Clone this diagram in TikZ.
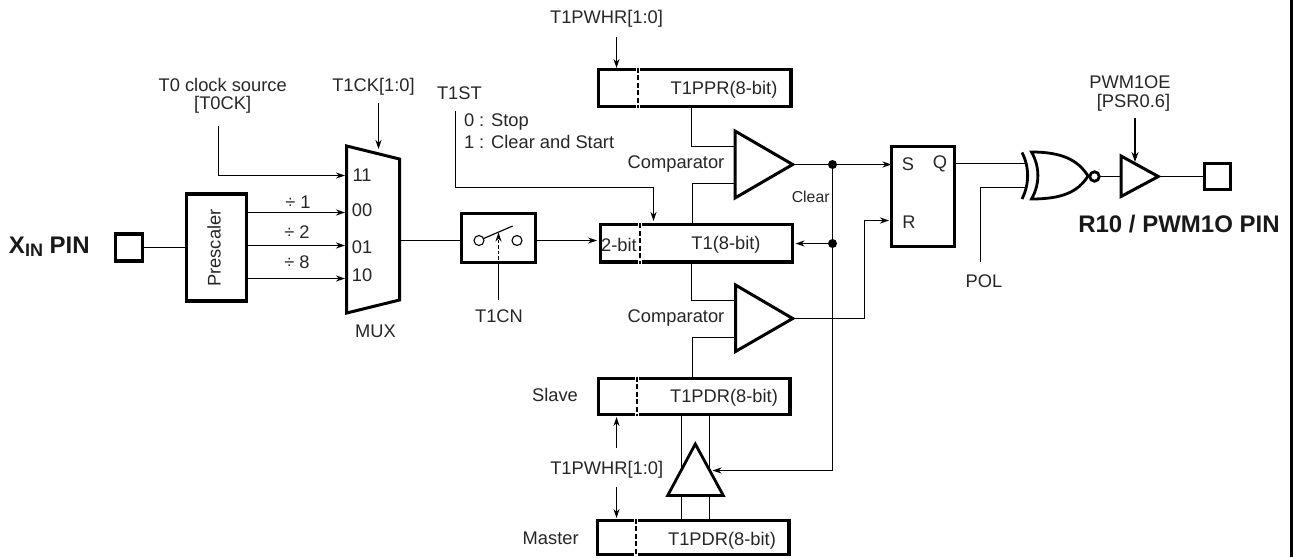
\documentclass[tikz,border=0pt]{standalone}
\usepackage{fontspec}
\setmainfont{Liberation Sans}
\usetikzlibrary{arrows.meta,calc}
\tikzset{
 every node/.style={inner sep=0pt,outer sep=0pt,font=\fontsize{18.3}{20}\selectfont,text=black!85},
 boxed/.style={draw,line width=3.4pt},
 thin line/.style={line width=1.15pt},
 arr/.style={line width=1.15pt,-{Stealth[length=9pt,width=6pt]}},
 shp/.style={draw,line width=3pt,line join=miter,fill=white},
 dot/.style={circle,fill=black,minimum size=9pt},
 bold label/.style={font=\fontsize{24}{26}\selectfont\bfseries,text=black!90},
}
\newcommand{\regbox}[6]{% name x0 y0 x1 y1 xd
 \node[boxed,minimum width=#4pt-#2pt-2.4pt,minimum height=#5pt-#3pt-2.4pt,anchor=north west] (#1) at (#2+1.2,#3+1.2) {};
 \draw[white,line width=3.5pt] (#6,#3-0.5) -- (#6,#5+0.5);
 \draw[line width=1.6pt,dash pattern=on 5pt off 2.5pt] (#6,#3-0.5) -- (#6,#5+0.5);
}
\begin{document}
\begin{tikzpicture}[x=1pt,y=-1pt]
\useasboundingbox (0,0) rectangle (1293,557);
\draw[line width=3pt] (1291.5,0) -- (1291.5,557);
% left pins
\node[bold label,anchor=west] (xin) at (9,247) {X\raisebox{-3pt}{\fontsize{18}{18}\selectfont IN} PIN};
\node[boxed,minimum size=27pt] (pinL) at (129,247.5) {};
\node[boxed,minimum width=60pt,minimum height=107pt] (pre) at (216.3,247.5) {};
\node[rotate=90] (pretxt) at (214,248) {Prescaler};
\draw[thin line] (pinL.east) -- (pre.west);
% mux
\draw[shp] (346.7,146) -- (399.5,159) -- (399.5,300) -- (346.7,313) -- cycle;
\coordinate (muxTop) at (378.5,149);
\coordinate (muxOut) at (399.5,240.5);
\coordinate (m11) at (345,175.5);
\coordinate (m00) at (345,212.5);
\coordinate (m01) at (345,245.5);
\coordinate (m10) at (345,278.5);
\node (n11) at (362,175) {11};
\node (n00) at (362,210) {00};
\node (n01) at (362,247.5) {01};
\node (n10) at (362,275.5) {10};
\node (mux) at (375.5,331.5) {MUX};
\node (tck) at (222.7,85) {T0 clock source};
\node (tck2) at (222.7,105) {[T0CK]};
\node (t1ck) at (373.5,87) {T1CK[1:0]};
\coordinate (tckS) at (218.5,126);
\draw[arr] (tckS) |- (m11);
\coordinate (t1ckS) at (378.5,103);
\draw[arr] (t1ckS) -- (muxTop);
\node (d1) at (298,202) {÷ 1};
\node (d2) at (297,232) {÷ 2};
\node (d8) at (297,262) {÷ 8};
\draw[arr] (248,212.5) -- (m00);
\draw[arr] (248,245.5) -- (m01);
\draw[arr] (248,278.5) -- (m10);
% switch
\node[boxed,minimum width=74pt,minimum height=49pt] (sw) at (498.5,238) {};
\draw[thin line] (muxOut) -- (sw.west |- muxOut);
\node[circle,draw,line width=1.1pt,minimum size=10pt] (c1) at (479,240.5) {};
\node[circle,draw,line width=1.1pt,minimum size=10pt] (c2) at (517,240.5) {};
\coordinate (swTip) at (512.7,226);
\draw[thin line] (c1) -- (swTip);
\node (t1cn) at (499,316) {T1CN};
\coordinate (swArrS) at (498.5,300);
\coordinate (swDash) at (498.5,265);
\coordinate (swTop) at (498.5,232.5);
\draw[thin line] (swArrS) -- (swDash);
\draw[arr,dash pattern=on 3.5pt off 2pt] (swDash) -- (swTop);
% registers
\regbox{ppr}{597}{68}{792}{107.5}{638}
\regbox{tone}{599}{223.5}{793.5}{263}{640}
\regbox{slv}{597}{377}{791}{415.5}{637}
\regbox{mst}{596}{519}{790}{555.5}{636}
\node (pprt) at (724,90) {T1PPR(8-bit)};
\node (t1t) at (726,245) {T1(8-bit)};
\node (two) at (619,245) {2-bit};
\node (slvt) at (724,398) {T1PDR(8-bit)};
\node (mstt) at (722,540.5) {T1PDR(8-bit)};
\node (pw1) at (606.5,19) {T1PWHR[1:0]};
\coordinate (pw1S) at (616.5,37);
\draw[arr] (pw1S) -- (616.5,68);
\node[anchor=west] (t1st) at (437,93) {T1ST};
\node[anchor=west] (stop) at (464,122) {0 : Stop};
\node[anchor=west] (clr) at (464,142) {1 : Clear and Start};
\coordinate (stS) at (455.5,111);
\draw[arr] (stS) |- (653.5,187.5) -- (653.5,221);
\draw[arr] (sw.east |- muxOut) -- (597,240.5);
% comparators
\draw[shp] (735,131) -- (792.7,164.5) -- (735,198) -- cycle;
\draw[shp] (735.5,285) -- (792.7,318.5) -- (735.5,351.5) -- cycle;
\node (cmp1) at (676,164.5) {Comparator};
\node (cmp2) at (676,318.5) {Comparator};
\draw[thin line] (691.5,107.5) |- (735,146.5);
\draw[thin line] (692.5,223.5) |- (735,183.5);
\draw[thin line] (691.5,263) |- (735.5,300.5);
\draw[thin line] (692.5,377) |- (735.5,337.5);
% SR
\node[boxed,minimum width=63pt,minimum height=100pt] (sr) at (923,196.4) {};
\node (S) at (908,164) {S};
\node (Q) at (940,164) {Q};
\node (R) at (909,222.5) {R};
\node[dot] (d1n) at (832.5,164.5) {};
\node[dot] (d2n) at (832.5,243.5) {};
\draw[thin line] (792.7,164.5) -- (d1n);
\draw[arr] (d1n) -- (sr.west |- d1n);
\draw[thin line] (d1n) -- (d2n);
\draw[arr] (d2n) -- (795.5,243.5);
\draw[arr] (d2n) -- (832.5,470.5) -- (712.5,470.5);
\coordinate (srRb) at (889,220.5);
\draw[arr] (792.7,318.5) -| (864.5,220.5) -- (srRb);
\node (clear) at (810.7,196.5) {\fontsize{15.8}{17}\selectfont Clear};
% slave / master
\node (slave) at (555,395) {Slave};
\node (master) at (550.7,538) {Master};
\node (pw2) at (606.7,470) {T1PWHR[1:0]};
\coordinate (p2a) at (616.5,448);
\coordinate (p2b) at (616.5,487);
\draw[arr] (p2a) -- (616.5,417);
\draw[arr] (p2b) -- (616.5,518);
\draw[thin line] (681.5,415.5) -- (681.5,519);
\draw[thin line] (709.5,415.5) -- (709.5,519);
\draw[shp,line width=2.8pt] (695.3,444) -- (667.7,495.5) -- (723.3,495.5) -- cycle;
% XNOR
\draw[thin line] (sr.east |- 0,163.5) -- (1026,163.5);
\node (pol) at (984,281) {POL};
\coordinate (polT) at (980.5,262);
\draw[thin line] (polT) |- (1026,187.5);
\draw[line width=2.8pt,fill=white] (1031.5,152) .. controls (1040,167) and (1040,184) .. (1031.5,199)
  .. controls (1062,199) and (1078,192) .. (1088,176) .. controls (1078,160) and (1062,152) .. (1031.5,152) -- cycle;
\draw[line width=2.8pt] (1022,152.5) .. controls (1029.5,167) and (1029.5,184) .. (1022,199);
\node[circle,draw,line width=2.8pt,minimum size=9.5pt] (bub) at (1094.5,176.5) {};
% buffer
\draw[shp] (1121,156) -- (1158.3,176.5) -- (1121,196.5) -- cycle;
\draw[thin line] (bub) -- (1121,176.5);
\node[boxed,minimum size=26pt] (pinR) at (1217.5,176.5) {};
\draw[thin line] (1158.3,176.5) -- (pinR.west);
\node (oe) at (1130,82.5) {PWM1OE};
\node (psr) at (1133.5,103) {[PSR0.6]};
\coordinate (oeS) at (1135,118);
\draw[line width=1.7pt,-{Stealth[length=10pt,width=7pt]}] (oeS) -- (1135,162);
\node[bold label] (r10) at (1179,224) {R10 / PWM1O PIN};
\end{tikzpicture}
\end{document}
